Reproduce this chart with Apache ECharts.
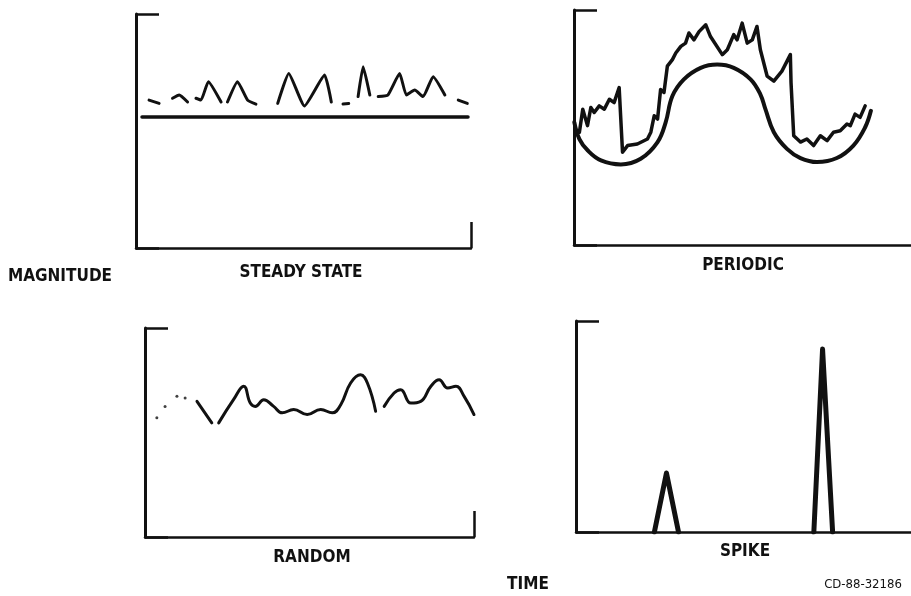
<!DOCTYPE html>
<html>
<head>
<meta charset="utf-8">
<title>Signal types</title>
<script src="https://cdn.jsdelivr.net/npm/echarts@6/dist/echarts.min.js"></script>
<style>
	html, body { margin: 0; padding: 0; background: #ffffff; }
	#chart { width: 911px; height: 596px; }
</style>
</head>
<body>
<div id="chart"></div>
<script>
	// panel titles
	var panelNames = ['STEADY STATE', 'PERIODIC', 'RANDOM', 'SPIKE'];

	// steady state: flat level + small peaks riding above it
	var steadyLevel = [[1.8, 56], [99.1, 56]];
	var steadySignal = [
		[3.9, 63.2], [6.9, 61.8], null, [10.9, 64], [12.9, 65.4], [15.4, 62.4], null, [17.9, 64], [19.4, 63.2],
		[21.6, 71.1], [25.4, 62.4], null, [27.3, 62.4], [30.3, 71.1], [33.3, 63.2], [35.8, 61.5], null,
		[42.3, 61.8], [45.6, 74.6], [50.3, 60.7], [56.3, 73.9], [58.3, 62.4], null, [61.8, 61.5],
		[63.5, 61.8], null, [66.3, 64.7], [67.8, 77.5], [69.8, 65.4], null, [72.3, 64.7], [75.2, 65.4], [78.7, 74.6],
		[80.7, 65.4], [83.2, 67.5], [85.7, 64.7], [88.7, 73.2], [92.2, 65.4], null, [96.2, 63.2], [98.9, 61.8]
	];

	// periodic: smooth wave + noisy trace above it
	var periodicCurve = [
		[0.1, 52.2], [1.6, 45.1], [4.1, 40.2], [8.0, 36.0], [13.9, 34.3], [19.8, 36.7], [24.8, 43.8],
		[27.2, 52.2], [29.2, 63.4], [32.6, 70.5], [37.6, 75.4], [42.5, 76.8], [47.4, 75.4], [52.4, 70.5],
		[55.3, 64.1], [56.8, 57.8], [59.3, 48.0], [63.2, 40.9], [67.2, 37.0], [72.1, 35.3], [78.0, 37.0],
		[82.9, 42.3], [86.4, 50.1], [88.1, 57.1]
	];
	var periodicNoise = [
		[1.6, 48.0], [2.6, 57.8], [4.0, 50.8], [5.0, 58.5], [6.0, 56.4], [7.5, 59.2], [9.0, 57.8],
		[10.5, 62.0], [11.9, 60.6], [13.4, 67.0], [14.4, 39.5], [15.9, 42.3], [18.8, 43.0], [21.8, 45.1],
		[22.8, 48.0], [23.8, 55.0], [24.8, 53.6], [25.7, 66.2], [26.7, 64.9], [27.7, 76.1], [29.2, 78.9],
		[30.2, 81.7], [31.7, 84.5], [33.1, 85.9], [34.1, 90.2], [35.6, 87.3], [37.1, 90.8], [39.1, 93.7],
		[40.5, 88.7], [44.0, 81.0], [45.5, 83.1], [47.4, 89.5], [48.4, 87.3], [49.9, 94.4], [51.4, 85.9],
		[52.9, 87.3], [54.3, 93.0], [55.3, 83.1], [57.3, 71.9], [59.3, 69.7], [61.7, 74.0], [64.2, 81.0],
		[64.4, 69.1], [65.2, 46.5], [67.2, 43.8], [69.1, 45.1], [71.1, 42.3], [73.1, 46.5], [75.1, 44.4],
		[77.0, 48.0], [79.0, 48.6], [81.0, 51.5], [82.0, 50.8], [83.4, 55.7], [84.9, 54.3], [86.4, 59.2]
	];

	// random: wandering trace, faint start
	var randomDots = [[3.6, 57.0], [6.1, 62.5], [9.7, 67.3], [12.2, 66.5]];
	var randomSignal = [
		[15.8, 64.9], [20.3, 54.6], null, [22.4, 54.6], [26.9, 65.7], [30.0, 72.1], [32.0, 64.1],
		[33.5, 62.5], [36.1, 65.7], [39.1, 62.5], [41.7, 59.4], [45.2, 61.0], [49.3, 58.6], [53.4, 61.0],
		[56.9, 59.4], [59.5, 63.3], [62.5, 73.7], [65.5, 77.6], [67.6, 73.7], [70.1, 60.2], null,
		[72.7, 62.5], [75.7, 68.9], [77.7, 70.5], [80.8, 64.1], [83.8, 64.9], [86.9, 72.1], [89.4, 75.2],
		[92.0, 71.3], [94.5, 72.1], [97.0, 67.3], [100, 58.6]
	];

	// spike: two triangular pulses standing on the baseline
	var spikeSignal = [
		[23.4, 0], [27.0, 28], [30.6, 0], null, [71.0, 0], [73.6, 86.7], [76.6, 0]
	];

	var ink = '#111111';
	var labelFont = 'bold 17px "DejaVu Sans Condensed", "Liberation Sans Narrow", sans-serif';

	// grid boxes: [left, top, width, height, tick on right end]
	var boxes = [
		[136, 14, 335, 234, true],
		[574, 10, 337, 235, false],
		[145, 328, 329, 209, true],
		[576, 321, 335, 211, false]
	];

	var grids = [], xAxes = [], yAxes = [];
	boxes.forEach(function(b, i) {
		grids.push({ left: b[0], top: b[1], width: b[2], height: b[3] });
		xAxes.push({
			gridIndex: i, type: 'value', min: 0, max: 100, interval: 100,
			axisLine: { lineStyle: { color: ink, width: 2.5 } },
			axisTick: { show: b[4], inside: true, length: 26, lineStyle: { color: ink, width: 2.5 } },
			axisLabel: { show: false },
			splitLine: { show: false }
		});
		yAxes.push({
			gridIndex: i, type: 'value', min: 0, max: 100, interval: 100,
			axisLine: { show: true, lineStyle: { color: ink, width: 3 } },
			axisTick: { show: true, inside: true, length: 23, lineStyle: { color: ink, width: 2.5 } },
			axisLabel: { show: false },
			splitLine: { show: false }
		});
	});

	function trace(idx, data, width, smooth) {
		return {
			type: 'line', xAxisIndex: idx, yAxisIndex: idx, data: data,
			showSymbol: false, smooth: smooth, connectNulls: false,
			lineStyle: { color: ink, width: width, cap: 'round', join: 'round' },
			silent: true
		};
	}

	var chart = echarts.init(document.getElementById('chart'), null, { renderer: 'canvas' });
	chart.setOption({
		backgroundColor: '#ffffff',
		animation: false,
		grid: grids,
		xAxis: xAxes,
		yAxis: yAxes,
		series: [
			trace(0, steadyLevel, 3.5, false),
			trace(0, steadySignal, 3, 0.15),
			trace(1, periodicCurve, 4, 0.4),
			trace(1, periodicNoise, 3.5, false),
			trace(2, randomSignal, 3, 0.45),
			{
				type: 'scatter', xAxisIndex: 2, yAxisIndex: 2, data: randomDots,
				symbolSize: 3, itemStyle: { color: ink }, silent: true
			},
			trace(3, spikeSignal, 5, false)
		],
		graphic: [
			{ type: 'text', style: { text: 'MAGNITUDE', x: 60, y: 277, textAlign: 'center', textVerticalAlign: 'middle', font: labelFont, fill: ink } },
			{ type: 'text', style: { text: panelNames[0], x: 301, y: 273, textAlign: 'center', textVerticalAlign: 'middle', font: labelFont, fill: ink } },
			{ type: 'text', style: { text: panelNames[1], x: 743, y: 266, textAlign: 'center', textVerticalAlign: 'middle', font: labelFont, fill: ink } },
			{ type: 'text', style: { text: panelNames[2], x: 312, y: 558, textAlign: 'center', textVerticalAlign: 'middle', font: labelFont, fill: ink } },
			{ type: 'text', style: { text: panelNames[3], x: 745, y: 552, textAlign: 'center', textVerticalAlign: 'middle', font: labelFont, fill: ink } },
			{ type: 'text', style: { text: 'TIME', x: 528, y: 585, textAlign: 'center', textVerticalAlign: 'middle', font: labelFont, fill: ink } },
			{ type: 'text', style: { text: 'CD-88-32186', x: 863, y: 585, textAlign: 'center', textVerticalAlign: 'middle', font: '13px "DejaVu Sans Condensed", sans-serif', fill: ink } }
		]
	});
</script>
</body>
</html>
